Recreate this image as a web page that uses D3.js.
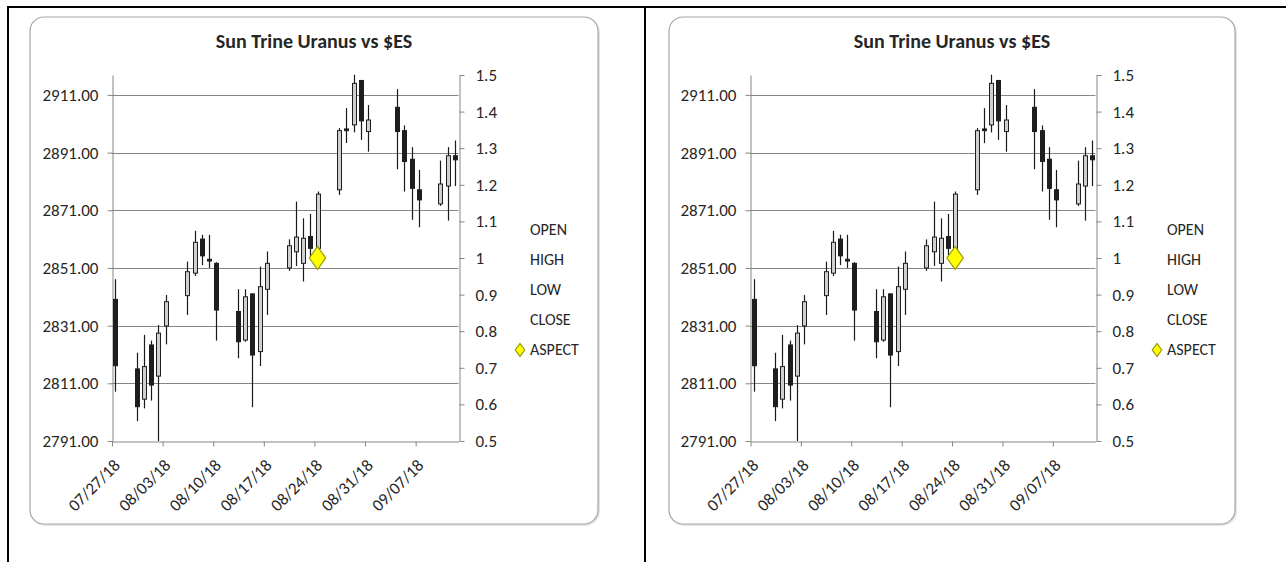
<!DOCTYPE html>
<html><head><meta charset="utf-8">
<script src="https://cdn.jsdelivr.net/npm/d3@7/dist/d3.min.js"></script>
<style>
html,body{margin:0;padding:0;background:#fff;}
svg{display:block;}
text{font-family:"Carlito","Lato",sans-serif;fill:#262626;}
</style></head>
<body>
<svg id="root" width="1286" height="562"></svg>
<script>
// ---- data ----
const dates = ["2018-07-27","2018-07-30","2018-07-31","2018-08-01","2018-08-02","2018-08-03",
"2018-08-06","2018-08-07","2018-08-08","2018-08-09","2018-08-10",
"2018-08-13","2018-08-14","2018-08-15","2018-08-16","2018-08-17",
"2018-08-20","2018-08-21","2018-08-22","2018-08-23","2018-08-24",
"2018-08-27","2018-08-28","2018-08-29","2018-08-30","2018-08-31",
"2018-09-04","2018-09-05","2018-09-06","2018-09-07",
"2018-09-10","2018-09-11","2018-09-12"];
const open  = [2840.1,2816.0,2805.5,2824.3,2813.5,2830.9, 2841.4,2849.2,2861.0,2854.0,2852.6, 2835.9,2826.0,2842.0,2822.0,2843.6, 2851.0,2856.6,2852.6,2861.9,2857.8, 2878.1,2899.2,2900.6,2916.0,2898.3, 2906.7,2898.6,2888.7,2878.1, 2873.2,2879.4,2889.9];
const high  = [2847.1,2821.6,2827.8,2825.8,2831.2,2841.6, 2853.2,2863.9,2862.5,2862.5,2853.0, 2843.6,2843.6,2842.2,2851.5,2856.7, 2860.9,2874.0,2868.2,2869.7,2877.5, 2899.5,2906.4,2918.0,2916.2,2907.5, 2913.0,2900.4,2892.9,2885.0, 2888.2,2892.9,2895.2];
const low   = [2808.1,2797.9,2802.3,2805.0,2791.0,2824.5, 2834.7,2848.2,2852.0,2851.0,2825.8, 2819.7,2825.4,2802.7,2817.0,2834.7, 2850.0,2851.7,2846.3,2855.0,2857.0, 2876.3,2894.3,2898.0,2895.4,2891.3, 2885.2,2877.5,2867.7,2865.1, 2872.5,2867.4,2879.4];
const close = [2817.1,2802.9,2816.8,2810.4,2828.4,2839.3, 2849.7,2859.9,2855.2,2853.4,2836.4, 2825.4,2841.0,2820.8,2844.5,2852.6, 2858.7,2861.7,2861.3,2857.8,2876.6, 2898.6,2898.6,2915.0,2902.0,2902.3, 2898.3,2887.9,2878.6,2874.6, 2880.1,2889.9,2888.5];
const aspectDates = ["2018-08-24"];
const aspectValues = [1.0];
const leftTicks = [2791,2811,2831,2851,2871,2891,2911];
const rightTicks = [0.5,0.6,0.7,0.8,0.9,1.0,1.1,1.2,1.3,1.4,1.5];
const xTickLabels = ["07/27/18","08/03/18","08/10/18","08/17/18","08/24/18","08/31/18","09/07/18"];
const legendLabels = ["OPEN","HIGH","LOW","CLOSE","ASPECT"];
const title = "Sun Trine Uranus vs $ES";

const parse = d3.timeParse("%Y-%m-%d");
const fmtTick = d3.timeFormat("%m/%d/%y");
const bars = dates.map((d,i)=>({date:parse(d),o:open[i],h:high[i],l:low[i],c:close[i]}));
const aspects = aspectDates.map((d,i)=>({date:parse(d),v:aspectValues[i]}));

const root = d3.select("#root");

// table borders
root.append("line").attr("x1",8).attr("x2",1286).attr("y1",7).attr("y2",7).attr("stroke","#000").attr("stroke-width",2);
root.append("line").attr("x1",8).attr("x2",8).attr("y1",6).attr("y2",562).attr("stroke","#000").attr("stroke-width",2);
root.append("line").attr("x1",645).attr("x2",645).attr("y1",6).attr("y2",562).attr("stroke","#000").attr("stroke-width",2);

function drawChart(cfg){
  const g = root.append("g");
  // frame
  g.append("rect").attr("x",cfg.fx+1).attr("y",cfg.fy+1).attr("width",cfg.fw).attr("height",cfg.fh)
    .attr("rx",14).attr("fill","none").attr("stroke","#e4e4e4").attr("stroke-width",2);
  g.append("rect").attr("x",cfg.fx).attr("y",cfg.fy).attr("width",cfg.fw).attr("height",cfg.fh)
    .attr("rx",14).attr("fill","#fff").attr("stroke","#a6a6a6").attr("stroke-width",1.2);

  g.append("text").attr("x",(cfg.fx*2+cfg.fw)/2).attr("y",cfg.fy+31).attr("text-anchor","middle")
    .attr("font-weight","bold").attr("font-size",20).text(title);

  const x0 = parse("2018-07-27"), x1 = parse("2018-09-13");
  const x = d3.scaleTime().domain([x0,x1]).range([cfg.left,cfg.right]);
  const y = d3.scaleLinear().domain([2791,2917.9]).range([cfg.bottom,cfg.top]);
  const y2 = d3.scaleLinear().domain([0.5,1.5]).range([cfg.bottom,cfg.top]);
  const half = (x(d3.timeDay.offset(x0,1))-x(x0))/2;

  // gridlines
  g.append("g").selectAll("line").data(leftTicks.slice(1)).join("line")
    .attr("x1",cfg.left).attr("x2",cfg.right).attr("y1",d=>Math.round(y(d))+0.5).attr("y2",d=>Math.round(y(d))+0.5)
    .attr("stroke","#868686").attr("stroke-width",1);

  // left axis
  const la = g.append("g").attr("transform",`translate(${Math.round(cfg.left)+0.5},0)`)
    .call(d3.axisLeft(y).tickValues(leftTicks).tickFormat(d3.format(".2f")).tickSize(5).tickPadding(9).tickSizeOuter(0));
  // right axis
  const ra = g.append("g").attr("transform",`translate(${Math.round(cfg.right)+0.5},0)`)
    .call(d3.axisRight(y2).tickValues(rightTicks).tickFormat(d=>d3.format("~g")(d)).tickSize(5).tickPadding(11).tickSizeOuter(0));
  // bottom axis
  const tickDates = xTickLabels.map(s=>d3.timeParse("%m/%d/%y")(s));
  const ba = g.append("g").attr("transform",`translate(0,${Math.round(cfg.bottom)+0.5})`)
    .call(d3.axisBottom(x).tickValues(tickDates).tickFormat(fmtTick).tickSize(5).tickSizeOuter(0));
  ba.selectAll(".tick text").attr("text-anchor","end").attr("dy",0).attr("y",0)
    .attr("transform","translate(9,25) rotate(-45)");
  ba.selectAll(".tick line").attr("transform","translate(0.5,0)");
  [la,ra,ba].forEach(a=>{
    a.select(".domain").attr("stroke","#868686");
    a.selectAll(".tick line").attr("stroke","#868686");
    a.selectAll(".tick text").attr("font-size",17).attr("fill","#262626").style("font-family",'"Carlito","Lato",sans-serif');
  });

  // candles
  const cg = g.append("g");
  cg.selectAll("line.wick").data(bars).join("line").attr("class","wick")
    .attr("x1",d=>Math.round(x(d.date)+half)+0.5).attr("x2",d=>Math.round(x(d.date)+half)+0.5)
    .attr("y1",d=>y(d.h)).attr("y2",d=>y(d.l)).attr("stroke","#1a1a1a").attr("stroke-width",1.2);
  cg.selectAll("rect.body").data(bars).join("rect").attr("class","body")
    .attr("x",d=>Math.round(x(d.date)+half)-1.5).attr("width",4)
    .attr("y",d=>y(Math.max(d.o,d.c))).attr("height",d=>Math.max(1.5,Math.abs(y(d.o)-y(d.c))))
    .attr("fill",d=>d.c>=d.o?"#d0d0d0":"#1e1e1e").attr("stroke","#1e1e1e").attr("stroke-width",1);

  // aspect marker
  const dia = d3.symbol().type(d3.symbolDiamond).size(150);
  g.selectAll("path.asp").data(aspects).join("path").attr("class","asp")
    .attr("transform",d=>`translate(${x(d.date)+half},${y2(d.v)}) scale(1.25,1)`)
    .attr("d",dia).attr("fill","#ffff00").attr("stroke","#9a9a00").attr("stroke-width",1);

  // legend
  const lg = g.append("g");
  lg.selectAll("text").data(legendLabels).join("text")
    .attr("x",cfg.legX).attr("y",(d,i)=>cfg.legY+i*30).attr("font-size",16).text(d=>d);
  lg.append("path").attr("d",d3.symbol().type(d3.symbolDiamond).size(50))
    .attr("transform",`translate(${cfg.legX-10},${cfg.legY+4*30-5}) scale(1.25,1)`)
    .attr("fill","#ffff00").attr("stroke","#9a9a00").attr("stroke-width",1);
}

drawChart({fx:30,fy:17,fw:568,fh:507,left:111.5,right:458.5,top:75,bottom:441,legX:530,legY:235});
drawChart({fx:669,fy:17,fw:566,fh:507,left:750,right:1095.5,top:75,bottom:441,legX:1167,legY:235});
</script>
</body></html>
